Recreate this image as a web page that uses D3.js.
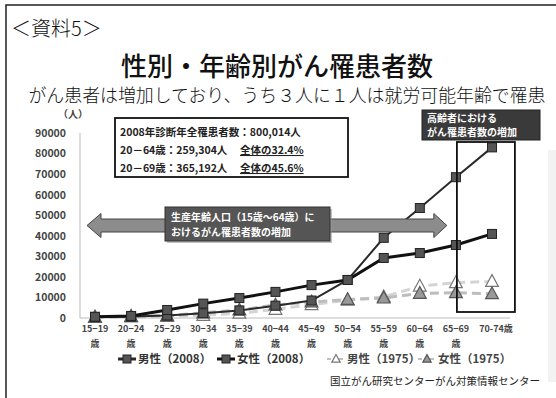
<!DOCTYPE html>
<html lang="ja">
<head>
<meta charset="utf-8">
<script src="https://cdn.jsdelivr.net/npm/d3@7/dist/d3.min.js"></script>
<style>
  html, body { margin: 0; padding: 0; background: #fff; }
  svg { display: block; }
  text { font-family: "Noto Sans CJK JP", "Noto Sans", sans-serif; }
</style>
</head>
<body>
<svg id="chart" width="556" height="398"></svg>
<script>
// Age groups (x categories)
const ageGroups = ["15−19", "20−24", "25−29", "30−34", "35−39", "40−44",
                   "45−49", "50−54", "55−59", "60−64", "65−69", "70-74"];
// Number of new cancer cases by age group
const male2008   = [500, 700, 1200, 2300, 3700, 6000, 8500, 18500, 39000, 53500, 68500, 83000];
const female2008 = [600, 1000, 3900, 7000, 9700, 12700, 16000, 18500, 29200, 31600, 35500, 40900];
const male1975   = [300, 500, 800, 1300, 2300, 4200, 6500, 8700, 10300, 15500, 17200, 17800];
const female1975 = [400, 800, 1100, 2500, 3900, 6300, 7800, 9000, 9700, 12000, 12300, 11800];
const yTicks = [0, 10000, 20000, 30000, 40000, 50000, 60000, 70000, 80000, 90000];
const legendLabels = ["男性（2008）", "女性（2008）", "男性（1975）", "女性（1975）"];

const svg = d3.select("#chart");
const latin = "'Liberation Sans', 'Noto Sans CJK JP', sans-serif";

// page frame
svg.append("rect").attr("x", 6).attr("y", 5).attr("width", 600).attr("height", 500)
  .attr("fill", "none").attr("stroke", "#222").attr("stroke-width", 1.5);
svg.append("rect").attr("x", 548).attr("y", 150).attr("width", 8).attr("height", 232)
  .attr("fill", "#f2f2f2");

// headings
svg.append("text").attr("x", 11).attr("y", 36).attr("font-size", 20).attr("font-weight", 300)
  .attr("fill", "#111").text("＜資料5＞");
svg.append("text").attr("x", 277).attr("y", 76).attr("text-anchor", "middle")
  .attr("font-size", 26).attr("font-weight", 500).attr("fill", "#111")
  .text("性別・年齢別がん罹患者数");
svg.append("text").attr("x", 287).attr("y", 102).attr("text-anchor", "middle")
  .attr("font-size", 17.9).attr("font-weight", 300).attr("fill", "#111")
  .text("がん患者は増加しており、うち３人に１人は就労可能年齢で罹患");

// scales
const x = d3.scalePoint().domain(ageGroups).range([95, 492]);
const y = d3.scaleLinear().domain([0, 90000]).range([318, 133]);

// axes
svg.append("line").attr("x1", 80).attr("x2", 80).attr("y1", y(90000)).attr("y2", y(0))
  .attr("stroke", "#bbb").attr("stroke-width", 1);
svg.append("line").attr("x1", 80).attr("x2", 510).attr("y1", y(0)).attr("y2", y(0))
  .attr("stroke", "#bbb").attr("stroke-width", 1);

const yAxis = svg.append("g").attr("transform", "translate(80,0)")
  .call(d3.axisLeft(y).tickValues(yTicks).tickSize(0).tickPadding(14).tickFormat(d3.format("d")));
yAxis.select(".domain").remove();
yAxis.selectAll("text").attr("font-family", latin).attr("font-weight", 700)
  .attr("font-size", 10.5).attr("fill", "#444");

svg.append("text").attr("x", 73).attr("y", 118).attr("text-anchor", "middle")
  .attr("font-size", 10).attr("font-weight", 700).attr("fill", "#444").text("（人）");

// x labels: range on first line, 歳 below
const xl = svg.append("g");
ageGroups.forEach((g, i) => {
  const last = i === ageGroups.length - 1;
  xl.append("text").attr("x", x(g) + (last ? 4 : 0)).attr("y", 332).attr("text-anchor", "middle")
    .attr("font-family", latin).attr("font-weight", 700).attr("font-size", 9).attr("fill", "#444")
    .text(last ? g + "歳" : g);
  if (!last) {
    xl.append("text").attr("x", x(g)).attr("y", 347).attr("text-anchor", "middle")
      .attr("font-weight", 700).attr("font-size", 9).attr("fill", "#444").text("歳");
  }
});

// series definitions
const series = [
  { name: legendLabels[0], values: male2008,   stroke: "#2a2a2a", width: 2,   dash: null,  marker: "square" },
  { name: legendLabels[1], values: female2008, stroke: "#111",    width: 3,   dash: null,  marker: "square" },
  { name: legendLabels[2], values: male1975,   stroke: "#d4d4d4", width: 3,   dash: "9,5", marker: "tri-open" },
  { name: legendLabels[3], values: female1975, stroke: "#bdbdbd", width: 3,   dash: "9,5", marker: "tri-fill" }
];

const line = d3.line().x((d, i) => x(ageGroups[i])).y(d => y(d));

function drawMarker(g, kind, cx, cy, size) {
  if (kind === "square") {
    g.append("rect").attr("x", cx - size / 2).attr("y", cy - size / 2)
      .attr("width", size).attr("height", size)
      .attr("fill", "#555").attr("stroke", "#222").attr("stroke-width", 1);
  } else {
    const s = size * 1.1;
    const p = d3.path();
    p.moveTo(cx, cy - s * 0.62); p.lineTo(cx + s * 0.58, cy + s * 0.45); p.lineTo(cx - s * 0.58, cy + s * 0.45); p.closePath();
    g.append("path").attr("d", p.toString())
      .attr("fill", kind === "tri-open" ? "#fff" : "#999")
      .attr("stroke", kind === "tri-open" ? "#777" : "#555").attr("stroke-width", 1.2);
  }
}

// draw 1975 first (behind), then 2008
const order = [2, 3, 0, 1];
order.forEach(k => {
  const s = series[k];
  svg.append("path").datum(s.values).attr("d", line)
    .attr("fill", "none").attr("stroke", s.stroke).attr("stroke-width", s.width)
    .attr("stroke-dasharray", s.dash);
});
order.forEach(k => {
  const s = series[k];
  const g = svg.append("g");
  s.values.forEach((v, i) => drawMarker(g, s.marker, x(ageGroups[i]), y(v), s.marker === "square" ? 9 : 10));
});

// info box
const box = svg.append("g");
box.append("rect").attr("x", 115).attr("y", 118).attr("width", 233).attr("height", 59)
  .attr("fill", "#fff").attr("stroke", "#111").attr("stroke-width", 1.8);
const infoFont = { "font-family": latin, "font-weight": 700, "font-size": 10.5, "fill": "#222" };
function infoText(tx, ty, str, underline) {
  const t = box.append("text").attr("x", tx).attr("y", ty).text(str);
  Object.entries(infoFont).forEach(([k, v]) => t.attr(k, v));
  if (underline) t.attr("text-decoration", "underline");
}
infoText(120, 136, "2008年診断年全罹患者数：800,014人");
infoText(120, 154, "20－64歳：259,304人");
infoText(240, 154, "全体の32.4%", true);
infoText(120, 172, "20－69歳：365,192人");
infoText(240, 172, "全体の45.6%", true);

// double-headed arrow (working-age range)
const ay = 225.5, sh = 6.5, hh = 12;
const ax0 = 87, ax1 = x("60−64") + 27;
const ap = d3.path();
ap.moveTo(ax0, ay);
ap.lineTo(ax0 + 14, ay - hh); ap.lineTo(ax0 + 14, ay - sh);
ap.lineTo(ax1 - 13, ay - sh); ap.lineTo(ax1 - 13, ay - hh);
ap.lineTo(ax1, ay);
ap.lineTo(ax1 - 13, ay + hh); ap.lineTo(ax1 - 13, ay + sh);
ap.lineTo(ax0 + 14, ay + sh); ap.lineTo(ax0 + 14, ay + hh);
ap.closePath();
svg.append("path").attr("d", ap.toString()).attr("fill", "#8c8c8c")
  .attr("stroke", "#444").attr("stroke-width", 1);

svg.append("rect").attr("x", 167).attr("y", 209).attr("width", 165).attr("height", 34)
  .attr("fill", "#999").attr("opacity", 0.6);
svg.append("rect").attr("x", 165).attr("y", 207).attr("width", 165).attr("height", 34)
  .attr("fill", "#555").attr("stroke", "#333").attr("stroke-width", 1);
svg.append("text").attr("x", 171).attr("y", 221).attr("font-size", 10).attr("font-weight", 700)
  .attr("fill", "#fff").text("生産年齢人口（15歳～64歳）に");
svg.append("text").attr("x", 171).attr("y", 236).attr("font-size", 10).attr("font-weight", 700)
  .attr("fill", "#fff").text("おけるがん罹患者数の増加");

// elderly highlight
svg.append("rect").attr("x", x("65−69") + 1).attr("y", 142).attr("width", 58).attr("height", 170)
  .attr("fill", "none").attr("stroke", "#111").attr("stroke-width", 1.8);
svg.append("rect").attr("x", 422).attr("y", 110).attr("width", 118).attr("height", 30)
  .attr("fill", "#3a3a3a").attr("stroke", "#222").attr("stroke-width", 1);
svg.append("text").attr("x", 427).attr("y", 122).attr("font-size", 10).attr("font-weight", 700)
  .attr("fill", "#fff").text("高齢者における");
svg.append("text").attr("x", 427).attr("y", 136).attr("font-size", 10).attr("font-weight", 700)
  .attr("fill", "#fff").text("がん罹患者数の増加");

// legend
const legendX = [118, 217, 327, 418];
series.forEach((s, i) => {
  const g = svg.append("g").attr("transform", `translate(${legendX[i]},363)`);
  g.append("line").attr("x1", 0).attr("x2", 18).attr("y1", -4).attr("y2", -4)
    .attr("stroke", s.marker === "square" ? s.stroke : "#aaa").attr("stroke-width", s.marker === "square" ? 3 : 1.5)
    .attr("stroke-dasharray", s.marker === "square" ? null : "4,2");
  drawMarker(g, s.marker, 9, -4, s.marker === "square" ? 8 : 6.5);
  g.append("text").attr("x", 20).attr("y", 0).attr("font-size", 11.5).attr("font-weight", 700)
    .attr("fill", s.marker === "square" ? "#333" : "#444").text(s.name);
});

// source
svg.append("text").attr("x", 540).attr("y", 385).attr("text-anchor", "end")
  .attr("font-size", 10.5).attr("fill", "#222").text("国立がん研究センターがん対策情報センター");
</script>
</body>
</html>
